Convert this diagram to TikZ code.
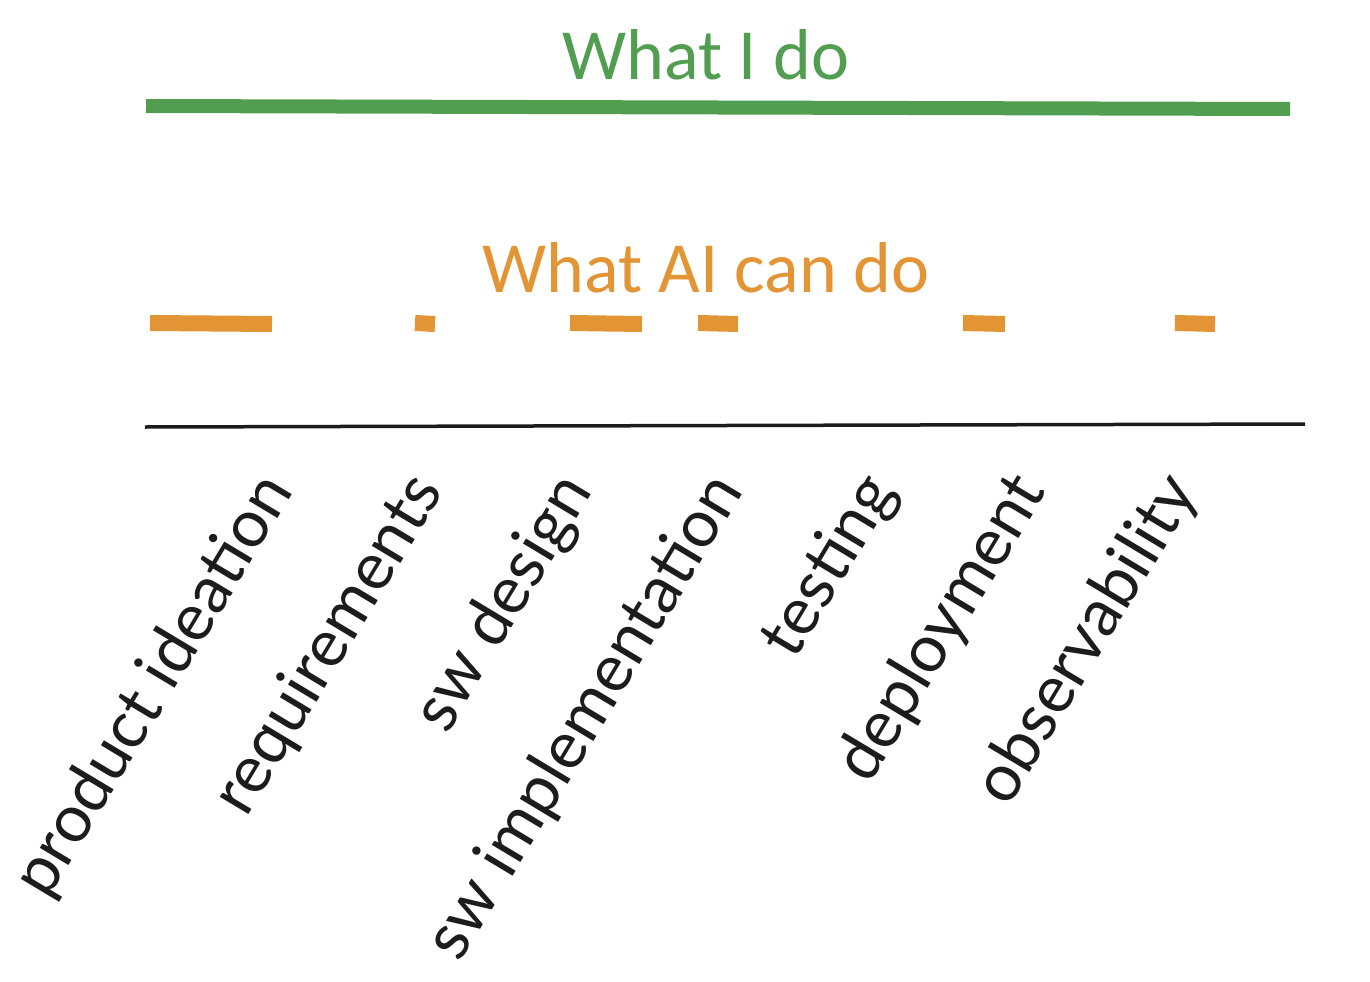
\documentclass[tikz,border=0pt]{standalone}
\usepackage{fontspec}
\setmainfont{Carlito}
\newfontfamily\stagefont{Lato}
\usetikzlibrary{positioning}
\definecolor{doGreen}{RGB}{82,158,80}
\definecolor{aiOrange}{RGB}{227,148,52}
\definecolor{axisBlack}{RGB}{28,28,28}

\begin{document}
\begin{tikzpicture}[x=1pt,y=-1pt,
  title/.style={font=\fontsize{72}{80}\selectfont, inner sep=0pt},
  stage/.style={font=\stagefont\fontsize{66}{72}\selectfont, text=axisBlack,
    rotate=59, anchor=base east, inner sep=0pt}]
  \useasboundingbox (0,0) rectangle (1370,982);
  % what I do
  \node[title, text=doGreen] (me) at (706,55) {What I do};
  \draw[doGreen, line width=14pt] (146,106) -- (1290,109);
  % what AI can do
  \node[title, text=aiOrange] (ai) at (706,268) {What AI can do};
  \foreach \a/\b in {150/272, 415/435, 570/642, 698/738, 963/1005, 1175/1215}
    \draw[aiOrange, line width=16pt] (\a,323) -- (\b,324);
  % stages
  \draw[axisBlack, line width=3.5pt] (145,427) -- (1305,424);
  \foreach \name/\txt/\x in {ideation/product ideation/294, req/requirements/444,
      design/sw design/594, impl/sw implementation/744, test/testing/897,
      deploy/deployment/1047, obs/observability/1199}
    \node[stage] (\name) at (\x,491) {\txt};
\end{tikzpicture}
\end{document}
